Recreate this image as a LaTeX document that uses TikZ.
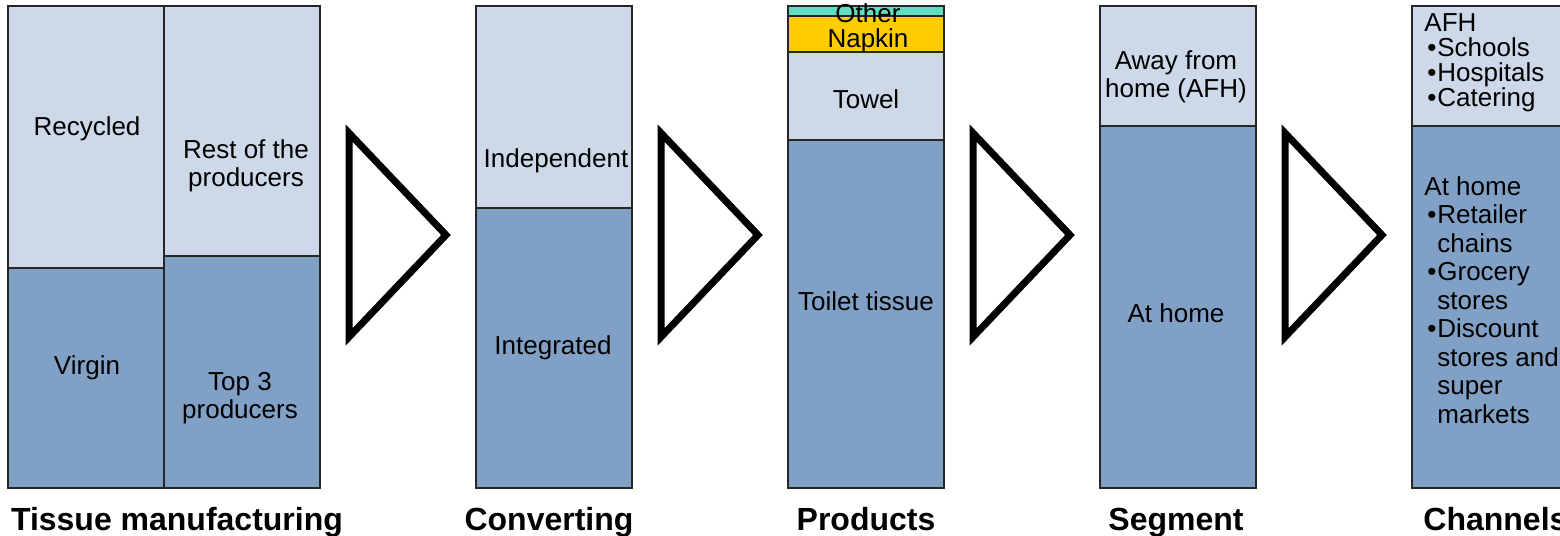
\documentclass[tikz,border=0pt]{standalone}
\usepackage{fontspec}
\setmainfont{Liberation Sans}
\definecolor{shareLight}{RGB}{205,216,232}
\definecolor{shareDark}{RGB}{129,160,197}
\definecolor{napkinYellow}{RGB}{255,204,0}
\definecolor{otherTeal}{RGB}{96,222,196}
\newcommand{\bul}{\makebox[6.5pt][l]{\hspace{1.5pt}•}}
\newcommand{\ind}{\hspace*{6.5pt}}

\begin{document}
\begin{tikzpicture}[
  x=0.5pt,
  y=-0.5pt,
  share/.style={draw=black!85,line width=1pt},
  txt/.style={inner sep=0pt,font=\fontsize{13}{14}\selectfont},
  stage/.style={inner sep=0pt,anchor=base,font=\fontsize{16}{19}\selectfont\bfseries},
  chevron/.style={draw=black,line width=3.5pt,line join=miter},
]
\clip (0,0) rectangle (1560,536);
\fill[white] (0,0) rectangle (1560,536);

% tissue manufacturing: fibre and producer split
\draw[share,fill=shareLight] (8,6) rectangle (164,268);
\draw[share,fill=shareDark] (8,268) rectangle (164,488);
\draw[share,fill=shareLight] (164,6) rectangle (320,256);
\draw[share,fill=shareDark] (164,256) rectangle (320,488);
\node[txt,anchor=base] (recycled) at (87,135) {Recycled};
\node[txt,anchor=base] (virgin) at (87,374) {Virgin};
\node[txt,anchor=north,align=center] (rest) at (246,139) {Rest of the\\producers};
\node[txt,anchor=north,align=center] (top3) at (240,372) {Top 3\\producers};

% converting
\draw[share,fill=shareLight] (476,6) rectangle (632,208);
\draw[share,fill=shareDark] (476,208) rectangle (632,488);
\node[txt,anchor=base] (independent) at (556,167) {Independent};
\node[txt,anchor=base] (integrated) at (553,354) {Integrated};

% products
\draw[share,fill=otherTeal] (788,6) rectangle (944,16);
\draw[share,fill=napkinYellow] (788,16) rectangle (944,52);
\draw[share,fill=shareLight] (788,52) rectangle (944,140);
\draw[share,fill=shareDark] (788,140) rectangle (944,488);
\node[txt,anchor=base] (other) at (868,22) {Other};
\node[txt,anchor=base] (napkin) at (868,47) {Napkin};
\node[txt,anchor=base] (towel) at (866,108) {Towel};
\node[txt,anchor=base] (toilet) at (866,310) {Toilet tissue};

% segment
\draw[share,fill=shareLight] (1100,6) rectangle (1256,126);
\draw[share,fill=shareDark] (1100,126) rectangle (1256,488);
\node[txt,anchor=north,align=center] (afh) at (1176,50) {Away from\\home (AFH)};
\node[txt,anchor=base] (athome) at (1176,322) {At home};

% channels
\draw[share,fill=shareLight] (1412,6) rectangle (1580,126);
\draw[share,fill=shareDark] (1412,126) rectangle (1580,488);
\node[txt,anchor=north west,align=left,font=\fontsize{13}{12.5}\selectfont] (afhlist) at (1424,13)
  {AFH\\\bul Schools\\\bul Hospitals\\\bul Catering};
\node[txt,anchor=north west,align=left,font=\fontsize{13}{14.25}\selectfont] (homelist) at (1424,176)
  {At home\\\bul Retailer\\\ind chains\\\bul Grocery\\\ind stores\\\bul Discount\\\ind stores and\\\ind super\\\ind markets};

\foreach \i in {0,1,2,3}
  \draw[chevron] ({349+312*\i},133) -- ({446+312*\i},235) -- ({349+312*\i},337) -- cycle;

\node[stage] (manuf) at (177,530) {Tissue manufacturing};
\node[stage] (conv) at (549,530) {Converting};
\node[stage] (prod) at (866,530) {Products};
\node[stage] (segm) at (1176,530) {Segment};
\node[stage,anchor=base west] (chan) at (1423,530) {Channels};
\end{tikzpicture}
\end{document}
